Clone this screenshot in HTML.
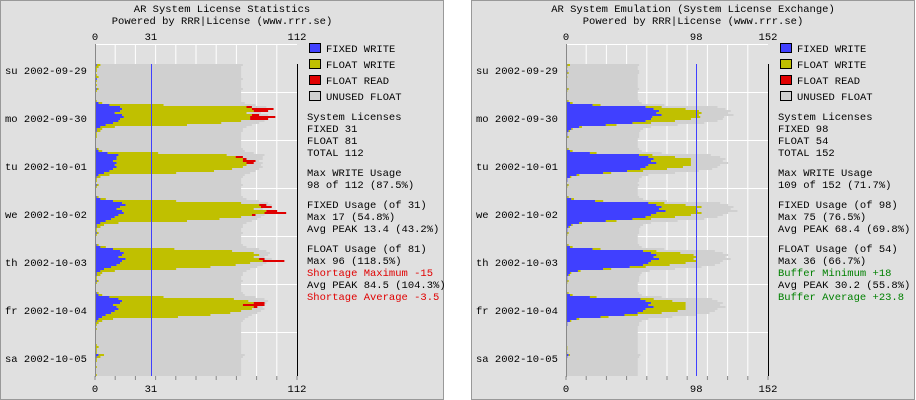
<!DOCTYPE html>
<html><head><meta charset="utf-8"><style>
body{margin:0;background:#fff;width:916px;height:400px;overflow:hidden}
svg{display:block}
text{font-family:"Liberation Mono","DejaVu Sans Mono",monospace;font-size:10.5px;fill:#000}
</style></head><body>
<svg id="s" width="916" height="400"></svg>
<script>
const days=["su 2002-09-29","mo 2002-09-30","tu 2002-10-01","we 2002-10-02","th 2002-10-03","fr 2002-10-04","sa 2002-10-05"];
const fixedL=[
[0,0,0,0,0,0,0,0,0,0,0,0,1,0,0,0,0,0,0,1,0,0,0,0],
[1,0,0,0,0,0,0,2,8,14,15,14,11,15,16,14,13,10,6,3,1,1,0,0],
[0,0,0,0,0,0,1,2,7,13,12,12,10,12,11,12,10,8,5,2,1,0,0,0],
[1,0,0,0,0,0,1,3,10,15,17,14,12,15,16,13,11,9,6,3,1,1,0,0],
[1,0,0,0,0,0,1,3,10,14,16,15,13,17,15,14,12,9,5,3,1,1,0,0],
[1,0,0,0,0,0,1,2,8,13,15,14,10,12,13,11,9,6,4,2,1,0,0,0],
[0,0,0,0,0,0,0,0,0,0,0,0,0,2,1,0,0,0,0,0,0,0,0,0]];
const floatL=[
[0,0,0,0,0,0,0,0,0,0,0,0,2,2,1,1,0,1,2,0,1,0,1,0],
[1,1,0,0,0,0,1,2,30,70,72,74,73,72,70,72,68,60,45,8,3,2,1,1],
[1,0,0,0,0,0,1,2,28,60,66,70,72,72,73,70,66,58,40,6,2,1,1,0],
[1,1,0,0,0,0,1,3,35,66,74,78,76,80,78,74,70,60,45,10,4,2,1,1],
[1,1,0,0,0,0,1,3,34,62,72,76,75,74,78,72,66,55,40,8,3,2,1,1],
[1,1,0,0,0,0,1,2,30,64,70,74,72,76,74,70,66,58,42,8,3,2,1,0],
[1,0,0,0,0,0,0,0,1,2,1,1,1,3,2,1,1,0,0,1,0,0,0,1]];
const readL=[
[0,0,0,0,0,0,0,0,0,0,0,0,0,0,0,0,0,0,0,0,0,0,0,0],
[0,0,0,0,0,0,0,0,0,3,12,8,0,4,14,10,0,0,0,0,0,0,0,0],
[0,0,0,0,0,0,0,0,0,0,4,2,7,4,0,0,0,0,0,0,0,0,0,0],
[0,0,0,0,0,0,0,0,0,0,4,6,0,6,12,2,0,0,0,0,0,0,0,0],
[0,0,0,0,0,0,0,0,0,0,0,0,0,3,12,0,0,0,0,0,0,0,0,0],
[0,0,0,0,0,0,0,0,0,0,0,6,12,2,0,0,0,0,0,0,0,0,0,0],
[0,0,0,0,0,0,0,0,0,0,0,0,0,0,0,0,0,0,0,0,0,0,0,0]];
const fixedR=[
[0,0,0,0,0,0,0,0,0,0,0,0,1,0,0,1,1,0,0,0,0,0,0,0],
[1,0,0,0,0,0,1,3,20,60,66,70,68,72,65,64,60,50,30,10,4,2,1,1],
[1,0,0,0,0,0,1,3,18,55,62,66,64,68,62,60,56,46,28,8,3,1,1,0],
[1,0,0,0,0,0,1,4,22,62,68,72,70,75,68,64,60,50,30,10,4,2,1,1],
[1,0,0,0,0,0,1,3,20,58,64,68,66,70,64,62,58,48,28,9,3,2,1,1],
[1,0,0,0,0,0,1,3,18,56,60,64,62,66,60,58,54,44,26,8,3,1,1,0],
[0,0,0,0,0,0,0,0,0,0,0,0,0,2,1,0,0,0,0,0,0,0,0,0]];
const floatR=[
[0,0,0,0,0,0,0,0,0,0,0,0,2,1,0,0,1,0,1,0,0,0,0,0],
[1,1,0,0,0,0,1,2,6,12,24,30,34,28,36,30,22,14,8,2,1,1,0,0],
[1,0,0,0,0,0,1,2,5,10,20,28,30,26,32,28,20,12,6,2,1,0,0,0],
[1,1,0,0,0,0,1,2,6,12,22,30,28,24,34,30,22,14,8,2,1,1,0,0],
[1,1,0,0,0,0,1,2,6,10,22,28,32,26,34,28,20,12,6,2,1,1,0,0],
[1,1,0,0,0,0,1,2,5,10,20,26,28,24,30,26,18,10,6,2,1,0,0,0],
[0,0,0,0,0,0,0,0,0,1,1,0,1,1,0,0,0,0,0,0,0,0,0,0]];
const readR=fixedR.map(d=>d.map(()=>0));
const capL=81, maxL=112, markL=31;
const capR=54, maxR=152, markR=98;
const startHour=12;

const NS="http://www.w3.org/2000/svg", svg=document.getElementById('s');
function el(t,a,txt){const e=document.createElementNS(NS,t);for(const k in a)e.setAttribute(k,a[k]);if(txt!==undefined)e.textContent=txt;svg.appendChild(e);return e;}

function chart(px,title,fixed,flt,read,cap,max,mark,info,pre){
  const x0=px+95,W=202,top=44,bot=376;
  const sx=v=>x0+v/max*W, sy=(d,h)=>40+(d*24+h)*2;
  let e=el('rect',{x:px+0.5,y:0.5,width:443,height:399,fill:'#e0e0e0',stroke:'#999'});
  
  e=el('text',{x:px+222,y:12,'text-anchor':'middle'},title[0]);
  
  e=el('text',{x:px+222,y:24,'text-anchor':'middle'},title[1]);
  
  for(let k=1;k<10;k++){e=el('line',{x1:x0+k*W/10,x2:x0+k*W/10,y1:top,y2:bot,stroke:'#fff'});
    }
  for(let k=0;k<6;k++){e=el('line',{x1:x0,x2:x0+W,y1:92.5+48*k,y2:92.5+48*k,stroke:'#fff'});
    }
  el('line',{x1:x0,x2:x0+W,y1:top+0.5,y2:top+0.5,stroke:'#fff'});
  for(let d=0;d<7;d++)for(let h=0;h<24;h++){
    if(d===0&&h<startHour)continue;
    const y=sy(d,h),f=fixed[d][h],w=flt[d][h],r=read[d][h];
    e=el('rect',{x:x0,y:y,width:sx(f+cap)-x0,height:2,fill:'#d0d0d0'});
    
    if(f>0){e=el('rect',{x:x0,y:y,width:sx(f)-x0,height:2,fill:'#4040ff'});
      }
    if(w>0){e=el('rect',{x:sx(f),y:y,width:sx(f+w)-sx(f),height:2,fill:'#c0c000'});
      }
    if(r>0){e=el('rect',{x:sx(f+w),y:y,width:sx(f+w+r)-sx(f+w),height:2,fill:'#e00000'});
      }
  }
  e=el('line',{x1:Math.round(sx(mark))+0.5,x2:Math.round(sx(mark))+0.5,y1:64,y2:bot,stroke:'#4040ff'});
  
  e=el('line',{x1:x0+W+0.5,x2:x0+W+0.5,y1:64,y2:bot,stroke:'#000'});
  
  e=el('line',{x1:x0+0.5,x2:x0+0.5,y1:top,y2:bot+1,stroke:'#888'});
  
  for(let k=0;k<=10;k++){el('line',{x1:x0+k*W/10,x2:x0+k*W/10,y1:bot,y2:bot+4,stroke:'#888'});}
  for(const v of [0,mark,max]){
    e=el('text',{x:sx(v),y:40,'text-anchor':'middle'},String(v));
    
    e=el('text',{x:sx(v),y:392,'text-anchor':'middle'},String(v));
    
  }
  days.forEach((d,i)=>{e=el('text',{x:px+5,y:74+48*i},d);
    });
  const leg=[['FIXED WRITE','#4040ff'],['FLOAT WRITE','#c0c000'],['FLOAT READ','#e00000'],['UNUSED FLOAT','#d0d0d0']];
  leg.forEach((l,i)=>{
    e=el('rect',{x:px+309.5,y:43.5+16*i,width:11,height:9,fill:l[1],stroke:'#000'});
    
    e=el('text',{x:px+326,y:52+16*i},l[0]);
    
  });
  const ys=[120,132,144,156,176,188,208,220,232,252,264,276,288,300];
  info.forEach((t,i)=>{e=el('text',{x:px+307,y:ys[i],style:'fill:'+(t[1]||'#000')},t[0]);
    });
}
chart(0,["AR System License Statistics","Powered by RRR|License (www.rrr.se)"],fixedL,floatL,readL,capL,maxL,markL,
 [["System Licenses"],["FIXED 31"],["FLOAT 81"],["TOTAL 112"],["Max WRITE Usage"],["98 of 112 (87.5%)"],["FIXED Usage (of 31)"],["Max 17 (54.8%)"],["Avg PEAK 13.4 (43.2%)"],["FLOAT Usage (of 81)"],["Max 96 (118.5%)"],["Shortage Maximum -15","#e00000"],["Avg PEAK 84.5 (104.3%)"],["Shortage Average -3.5","#e00000"]],'left-');
chart(471,["AR System Emulation (System License Exchange)","Powered by RRR|License (www.rrr.se)"],fixedR,floatR,readR,capR,maxR,markR,
 [["System Licenses"],["FIXED 98"],["FLOAT 54"],["TOTAL 152"],["Max WRITE Usage"],["109 of 152 (71.7%)"],["FIXED Usage (of 98)"],["Max 75 (76.5%)"],["Avg PEAK 68.4 (69.8%)"],["FLOAT Usage (of 54)"],["Max 36 (66.7%)"],["Buffer Minimum +18","#008000"],["Avg PEAK 30.2 (55.8%)"],["Buffer Average +23.8","#008000"]],'right-');
</script>
</body></html>
